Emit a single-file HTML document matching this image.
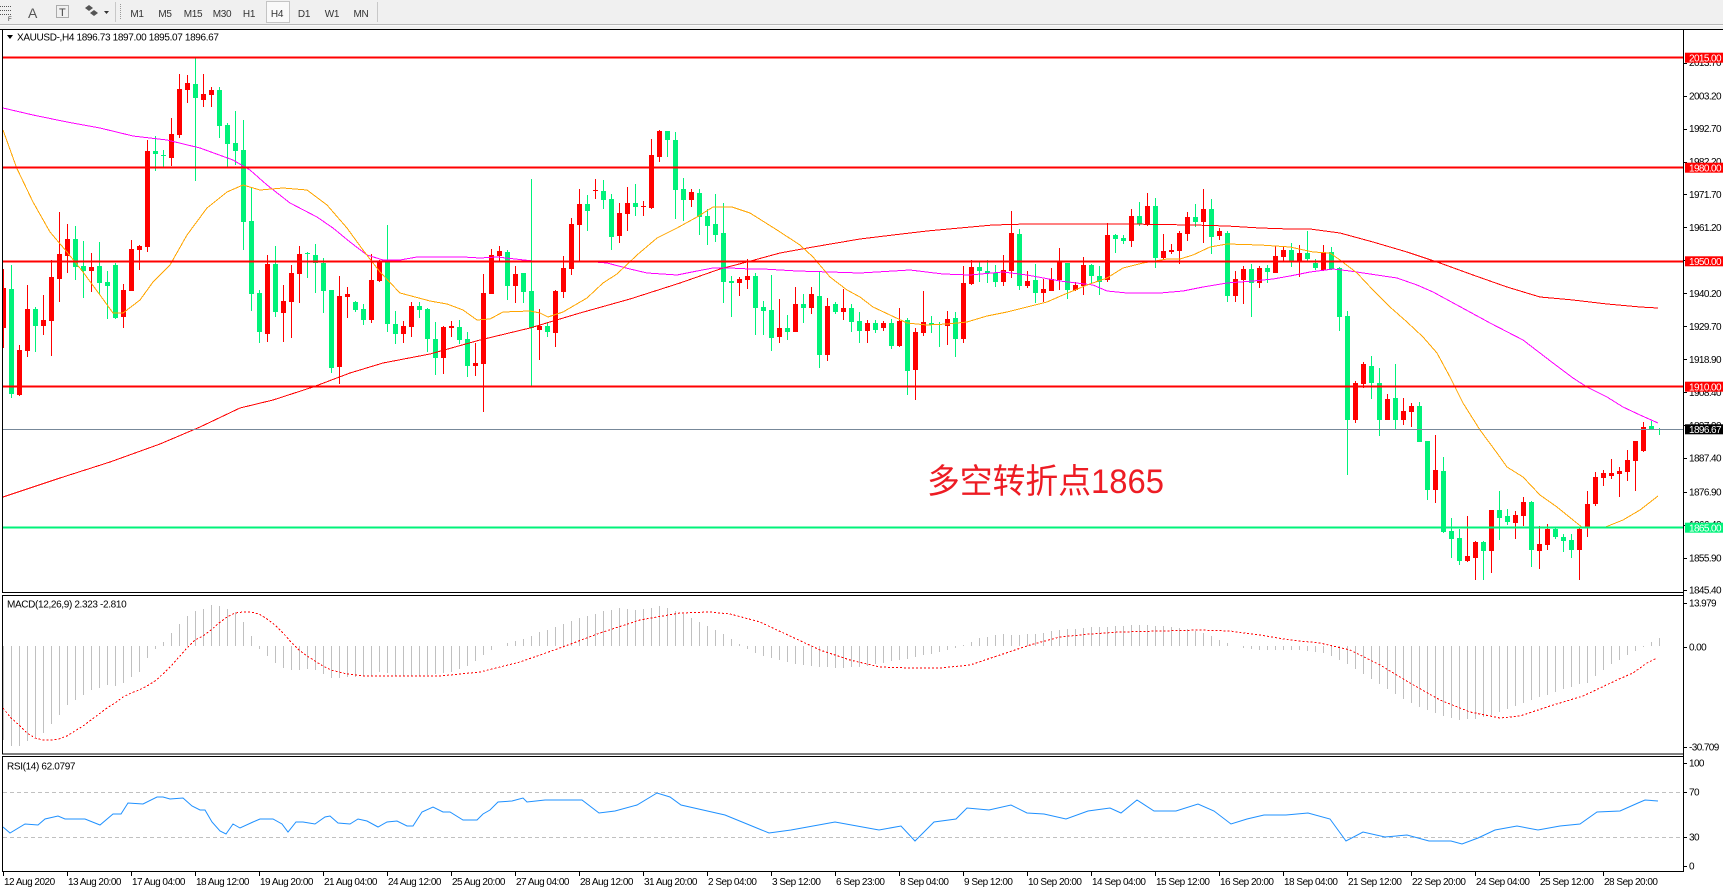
<!DOCTYPE html>
<html><head><meta charset="utf-8">
<style>
html,body{margin:0;padding:0;background:#fff;overflow:hidden;}
svg{display:block;font-family:"Liberation Sans","Noto Sans CJK SC",sans-serif;}
.t{font-size:10px;letter-spacing:-0.5px;fill:#000;}
.ax{font-size:10px;letter-spacing:-0.6px;fill:#000;}
.w{font-size:10px;letter-spacing:-0.6px;fill:#fff;}
.tb{font-size:10px;letter-spacing:-0.3px;fill:#333;}
</style></head><body>
<svg id="s" width="1723" height="892" viewBox="0 0 1723 892" xmlns="http://www.w3.org/2000/svg">
<defs>
<clipPath id="cm"><rect x="3" y="30" width="1680" height="562"/></clipPath>
<clipPath id="cd"><rect x="3" y="596" width="1680" height="158"/></clipPath>
<clipPath id="cr"><rect x="3" y="757" width="1680" height="114"/></clipPath>
</defs>
<rect x="0" y="0" width="1723" height="892" fill="#fff"/>
<!-- toolbar -->
<rect x="0" y="0" width="1723" height="29" fill="#F0F0F0"/>
<line x1="0" y1="24.5" x2="1723" y2="24.5" stroke="#B8B8B8"/>
<line x1="0" y1="25.5" x2="1723" y2="25.5" stroke="#FAFAFA"/>
<g stroke="#555" stroke-width="1" stroke-dasharray="1,1">
<line x1="0" y1="6.5" x2="11" y2="6.5"/><line x1="0" y1="10.5" x2="11" y2="10.5"/><line x1="0" y1="14.5" x2="11" y2="14.5"/>
</g>
<text x="8" y="21" style="font-size:6px;fill:#333">F</text>
<text x="28" y="18" style="font-size:14px;fill:#555">A</text>
<rect x="56.5" y="5.5" width="12" height="12" fill="none" stroke="#666" stroke-dasharray="1,1"/>
<text x="59" y="16" style="font-size:11px;fill:#444">T</text>
<polygon points="85,8 89,5 93,8 89,11" fill="#555"/>
<polygon points="90,13 94,10 98,13 94,16" fill="#555"/>
<polygon points="104,11 109,11 106.5,14" fill="#333"/>
<line x1="115.5" y1="2" x2="115.5" y2="22" stroke="#C8C8C8"/>
<line x1="120.5" y1="4" x2="120.5" y2="20" stroke="#999" stroke-dasharray="1,1"/>
<rect x="266.5" y="1.5" width="23" height="21" fill="#F9F9F9" stroke="#C4C4C4"/>
<g class="tb" text-anchor="middle">
<text x="137" y="17">M1</text><text x="165" y="17">M5</text><text x="193" y="17">M15</text><text x="222" y="17">M30</text>
<text x="249" y="17">H1</text><text x="277" y="17">H4</text><text x="304" y="17">D1</text><text x="332" y="17">W1</text><text x="361" y="17">MN</text>
</g>
<line x1="377.5" y1="2" x2="377.5" y2="22" stroke="#C8C8C8"/>
<!-- frames -->
<line x1="0" y1="29.5" x2="1723" y2="29.5" stroke="#000"/>
<rect x="2.5" y="29.5" width="1681" height="563" fill="none" stroke="#000"/>
<rect x="2.5" y="595.5" width="1681" height="158.5" fill="none" stroke="#000"/>
<rect x="2.5" y="756.5" width="1681" height="115" fill="none" stroke="#000"/>
<line x1="1683.5" y1="29" x2="1683.5" y2="872" stroke="#000"/>
<g id="main" clip-path="url(#cm)" shape-rendering="crispEdges"></g>
<g id="macd" clip-path="url(#cd)" shape-rendering="crispEdges"></g>
<g id="rsi" clip-path="url(#cr)"></g>
<!-- header -->
<polygon points="7,35 13,35 10,39" fill="#000"/>
<text class="t" x="17" y="40.5" style="letter-spacing:-0.35px">XAUUSD-,H4  1896.73 1897.00 1895.07 1896.67</text>
<text class="t" x="7" y="607.5" style="letter-spacing:-0.35px">MACD(12,26,9) 2.323 -2.810</text>
<text class="t" x="7" y="769.3" style="letter-spacing:-0.35px">RSI(14) 62.0797</text>
<text x="927" y="493" font-size="34" fill="#ED1C24" textLength="237" lengthAdjust="spacingAndGlyphs" style='font-family:"Liberation Sans","Noto Sans CJK SC",sans-serif'>多空转折点1865</text>
<g id="axis"></g>
</svg>
<script>
const NS='http://www.w3.org/2000/svg';
function el(tag,a,p){const e=document.createElementNS(NS,tag);for(const k in a)e.setAttribute(k,a[k]);p.appendChild(e);return e;}
const main=document.getElementById('main'),macd=document.getElementById('macd'),rsi=document.getElementById('rsi'),axis=document.getElementById('axis');
const S1=[[1,730,848,672,910],[0,732,1048,660,1060],[1,915,1050,900,1052],[1,793,917,720,935],[0,793,843,785,920],[1,826,842,750,870],[1,697,828,645,932],[1,627,702,500,770],[1,582,632,537,683],[0,582,667,543,705],[0,663,678,588,760],[1,666,678,624,740],[0,663,713,592,750],[0,711,722,678,822],[0,660,818,655,823],[1,735,815,717,848],[1,612,737,585,737],[1,603,614,600,675],[1,318,605,285,622],[0,318,326,272,377],[0,329,334,316,366],[1,267,338,218,362],[1,132,270,86,280],[1,114,134,90,173],[0,117,160,40,408],[1,148,164,87,185],[1,135,149,126,187],[0,135,242,126,280],[0,240,298,234,365],[0,295,318,197,360],[0,315,530,225,615],[0,528,746,425,797],[0,745,862,735,893],[1,657,866,631,890],[0,657,800,603,815],[1,768,803,720,890],[1,684,770,660,878],[1,627,687,603,773],[0,623,626,620,700],[0,630,655,597,743],[0,655,737,640,805],[0,735,970,735,983],[1,753,966,692,1016],[1,747,755,727,820],[0,770,795,767,800],[0,792,826,778,840],[1,705,826,628,833],[1,650,707,645,710],[0,650,838,540,862],[0,837,868,798,898],[1,843,868,828,895],[1,783,845,770,875],[0,783,795,770,820],[0,792,883,788,922]];
const S2=[[0,687,745,636,795],[1,650,745,648,792],[1,648,653,632,682],[0,651,690,630,703],[0,687,768,665,800],[1,759,768,700,798],[1,548,762,492,905],[1,435,551,417,551],[1,422,437,407,455],[0,426,527,420,570],[1,492,527,468,580],[0,489,545,489,578],[0,543,655,207,828],[1,648,660,598,750],[0,648,665,635,680],[1,543,668,540,710],[1,474,545,438,563],[1,342,476,324,496],[1,282,345,238,455],[0,282,302,256,362],[1,240,243,207,268],[0,243,269,210,296],[0,267,381,253,420],[1,309,378,278,398],[1,279,311,231,362],[0,279,290,222,318],[1,288,291,274,318],[1,135,293,87,296],[1,63,140,59,157],[0,63,89,63,140],[0,90,239,66,327],[0,237,269,204,332],[1,246,269,238,290],[0,249,320,238,374],[0,318,347,298,405],[0,342,374,252,395],[0,369,515,280,578],[0,513,518,498,620],[1,507,518,500,557],[1,497,509,448,536],[0,497,593,490,675],[0,591,602,573,675],[0,600,683,495,722],[1,654,680,567,698],[0,654,665,615,690],[1,582,665,531,665],[0,582,593,552,640],[1,552,593,532,613],[0,558,735,485,773],[1,588,735,563,752],[0,583,606,576,612],[1,594,605,537,630],[0,594,635,583,665],[0,633,662,605,698]];
const S3=[[1,489,512,480,548],[0,489,510,480,518],[1,489,503,483,512],[0,489,557,478,566],[1,483,558,444,560],[0,480,632,474,705],[1,516,630,505,720],[1,486,518,393,527],[0,489,496,467,518],[0,492,495,487,560],[1,477,497,453,555],[0,474,537,457,590],[1,369,537,318,548],[1,321,372,300,375],[0,321,332,305,365],[0,333,340,300,368],[0,339,365,315,380],[1,330,366,285,378],[1,219,333,153,355],[0,221,378,207,390],[1,363,378,333,385],[0,360,399,312,428],[1,387,398,357,425],[1,358,392,324,392],[1,305,360,264,390],[0,308,389,308,418],[1,375,389,365,392],[1,315,377,291,405],[0,315,348,312,372],[0,348,366,318,404],[1,225,360,189,365],[0,225,236,222,278],[0,234,242,225,251],[1,168,242,147,260],[0,168,193,127,199],[1,138,196,99,197],[0,138,293,114,323],[1,273,294,222,296],[1,269,275,253,283],[1,219,272,212,312],[1,170,222,156,242],[0,170,185,131,200],[1,147,185,87,248],[0,147,231,117,282],[1,212,228,205,240],[0,219,407,212,425],[1,357,407,333,425],[1,327,360,318,432],[0,327,369,312,470],[1,323,368,318,383],[0,323,335,314,368],[1,288,338,257,338],[1,270,290,260,303]];
const S4=[[0,150,185,130,200],[1,158,185,135,232],[0,158,178,93,185],[0,190,205,178,210],[1,157,210,135,213],[0,157,208,140,210],[0,203,350,200,392],[0,348,660,333,825],[1,549,660,543,668],[1,493,553,485,565],[0,497,550,468,597],[0,549,660,503,707],[1,597,660,582,660],[0,594,660,492,688],[1,632,660,593,675],[1,618,635,608,680],[0,618,725,605,725],[0,723,870,723,900],[1,810,870,705,910],[0,813,997,771,1000],[0,993,1017,955,1075],[0,1015,1083,988,1095],[1,1068,1083,948,1085],[1,1025,1073,1022,1140],[0,1025,1052,1022,1140],[1,930,1052,930,1120],[0,930,953,873,1020],[0,948,965,928,975],[1,944,968,933,1017],[1,906,947,890,978],[0,906,1050,903,1100],[1,1032,1052,978,1107],[1,987,1034,972,1050],[0,987,1010,980,1017],[0,1010,1022,1003,1055],[0,1020,1050,1003,1075],[1,987,1050,982,1140],[1,912,985,873,1010],[1,830,913,817,918],[1,820,833,810,858],[1,820,828,777,836],[1,813,822,800,890],[1,780,815,750,843],[1,722,783,722,873],[1,682,752,665,757],[0,678,688,663,688],[0,686,688,685,705]];
const RED='#FF0000',GRN='#00F27A';
let i=0;
for(const [off,arr] of [[45,S1],[110,S2],[160,S3],[200,S4]]){
  for(const c of arr){
    const col=c[0]?RED:GRN, x=3+8*i;
    const yt=Math.round(off+c[1]/3), yb=Math.round(off+c[2]/3), wt=Math.round(off+c[3]/3), wb=Math.round(off+c[4]/3);
    el('rect',{x:x,y:wt,width:1,height:Math.max(1,wb-wt),fill:col},main);
    el('rect',{x:x-2,y:yt,width:5,height:Math.max(1,yb-yt),fill:col},main);
    i++;
  }
}
function pl(str,col,p,extra){const a={points:str,fill:'none',stroke:col,'stroke-width':1};if(extra)Object.assign(a,extra);return el('polyline',a,p);}
pl("3,497 60,478 110,462 160,444 200,427 240,408 273,400 313,387 350,373 383,363 430,354 480,340 530,328 580,313 630,299 680,283 720,269 747,262 780,253 813,247 860,239 893,235 927,231 960,228 993,225 1027,224 1060,224 1127,224 1193,225 1227,226 1260,228 1290,229 1310,229 1340,233 1373,242 1407,252 1440,263 1473,275 1507,287 1540,297 1573,300 1607,304 1640,307 1658,308",RED,main);
pl("3,108 33,115 67,122 100,128 133,136 167,140 200,148 233,160 250,170 267,185 290,203 317,217 333,228 350,242 367,255 383,260 400,260 417,257 430,257 463,257 480,258 497,257 533,261 583,261 607,263 630,269 647,273 677,275 697,271 713,268 730,268 750,269 763,269 797,271 830,272 860,273 910,270 943,274 970,275 1003,272 1027,275 1060,281 1093,285 1107,291 1127,293 1160,293 1183,291 1203,287 1227,283 1253,281 1273,279 1290,276 1310,272 1333,269 1350,271 1370,274 1397,278 1417,285 1433,292 1457,305 1490,323 1523,340 1553,363 1573,378 1587,387 1607,397 1623,407 1640,415 1658,423","#FF00FF",main);
pl("3,130 16.7,168 33,202 50,232 67,252 83,272 100,295 113,313 123,313 140,300 153,282 170,265 187,235 207,208 227,192 243,185 260,190 283,188 307,190 327,205 347,228 363,250 380,272 400,293 430,301 447,304 463,310 477,320 490,319 503,312 530,311 540,313 548,317 563,312 587,298 603,283 617,274 637,255 657,238 677,228 697,217 713,207 732,207 750,213 777,230 800,245 813,257 830,277 847,290 860,297 873,307 890,315 907,323 927,325 947,324 967,322 987,316 1007,312 1027,307 1047,302 1063,295 1087,285 1107,278 1123,268 1143,263 1167,259 1180,259 1193,255 1210,247 1227,244 1260,245 1290,247 1313,252 1330,253 1340,260 1357,273 1373,290 1390,307 1407,322 1423,337 1437,353 1450,377 1463,403 1480,430 1497,453 1507,467 1523,477 1540,495 1557,507 1573,520 1583,528 1603,528 1623,520 1640,510 1658,496","#FFA500",main);
// horizontal levels
for(const y of [57.7,167.7,261.3,386.7]) el('rect',{x:3,y:y-1,width:1680,height:2,fill:RED},main);
el('rect',{x:3,y:526.7,width:1680,height:2,fill:GRN},main);
el('rect',{x:3,y:429,width:1680,height:1,fill:'#778899'},main);
// MACD
function interp(P,x){for(let k=0;k<P.length-1;k++){if(x<=P[k+1][0]){const a=P[k],b=P[k+1];return a[1]+(b[1]-a[1])*(x-a[0])/(b[0]-a[0]);}}return P[P.length-1][1];}
const H=[[3,740],[11,746],[19,746],[27,741],[35,737],[43,733],[51,724],[59,715],[67,705],[75,700],[83,695],[91,690],[99,688],[107,685],[115,686],[123,683],[131,677],[139,672],[147,658],[155,649],[163,642],[171,633],[179,624],[187,616],[195,611],[203,609],[211,605],[219,606],[227,609],[235,612],[243,622],[251,636],[259,649],[267,656],[275,663],[283,668],[291,670],[299,670],[307,669],[315,670],[323,674],[331,678],[339,678],[347,677],[355,677],[363,676],[371,676],[379,672],[387,673],[395,676],[420,676],[450,672],[470,665],[483,655],[500,645],[520,640],[540,632],[560,625],[580,618],[600,612],[620,608],[640,610],[660,606],[680,613],[700,622],[720,632],[740,645],[760,655],[780,660],[800,665],[820,667],[840,668],[860,667],[880,663],[900,660],[920,656],[940,652],[960,646],[980,638],[1000,634],[1020,635],[1040,633],[1060,630],[1080,628],[1100,627],[1120,626],[1140,625],[1160,626],[1180,628],[1200,632],[1220,640],[1240,648],[1260,650],[1280,650],[1300,650],[1320,652],[1340,660],[1360,672],[1380,685],[1400,697],[1420,707],[1440,715],[1460,720],[1480,718],[1500,712],[1520,704],[1540,697],[1560,690],[1580,684],[1587,683],[1595,676],[1603,670],[1611,664],[1619,660],[1627,655],[1635,651],[1643,647],[1651,642],[1659,638]];
const Z=646;
for(let k=0;k<208;k++){const x=3+8*k,t=Math.round(interp(H,x));const y0=Math.min(t,Z),h=Math.abs(t-Z);if(h>0)el('rect',{x:x,y:y0,width:1,height:h,fill:'#C0C0C0'},macd);}
const SG="3,708 11,718 19,725 27,733 35,738 43,740 51,740 59,739 67,736 75,731 83,726 91,720 99,714 107,708 115,703 123,697 131,693 139,690 147,686 155,681 163,674 171,666 179,657 187,648 195,640 203,636 211,630 219,623 227,617 235,613 243,612 251,612 259,614 267,619 275,625 283,633 291,642 299,650 307,656 315,661 323,666 331,670 339,672 347,674 355,675 363,676 395,676 440,676 480,672 520,662 560,648 600,633 640,620 680,613 710,612 730,614 760,622 790,636 820,650 850,660 880,667 910,668 940,668 970,665 1000,655 1030,645 1060,637 1090,634 1120,632 1160,631 1200,630 1230,631 1260,635 1290,640 1320,643 1350,650 1380,665 1410,683 1440,700 1470,712 1500,718 1520,716 1550,706 1583,696 1600,688 1617,680 1633,673 1647,663 1657,658";
pl(SG,RED,macd,{'stroke-dasharray':'2,2'});
// RSI
el('line',{x1:3,y1:792.5,x2:1683,y2:792.5,stroke:'#C0C0C0','stroke-dasharray':'4,3'},rsi);
el('line',{x1:3,y1:837.5,x2:1683,y2:837.5,stroke:'#C0C0C0','stroke-dasharray':'4,3'},rsi);
pl("3,827 10,833 25,824 38,825 45,819 58,816 65,819 85,819 100,825 113,814 121,814 128,803 143,804 157,797 163,797 170,799 183,798 192,806 200,810 205,810 212,822 220,831 226,834 233,824 240,828 253,822 260,819 273,819 282,824 288,832 296,822 303,822 315,824 325,817 330,816 338,823 350,824 358,819 367,821 378,827 387,822 397,821 407,826 413,826 422,812 433,807 443,812 450,812 463,820 477,820 483,814 490,810 498,802 512,801 523,798 527,802 545,800 582,800 599,813 615,811 637,805 657,793 670,797 681,805 703,810 725,815 747,824 769,833 791,830 813,826 835,822 857,826 879,830 901,826 915,841 934,822 956,819 967,808 989,810 1011,805 1027,813 1044,814 1066,819 1088,811 1110,808 1121,813 1137,800 1154,811 1176,811 1198,804 1214,811 1231,824 1247,819 1264,815 1286,815 1308,813 1330,819 1346,841 1363,832 1385,837 1407,835 1429,841 1451,841 1462,844 1478,838 1495,830 1517,826 1538,830 1560,826 1580,824 1597,812 1620,811 1638,803 1645,800 1658,801","#1E90FF",rsi);
// price axis labels
const PL=[["2013.70",62.5],["2003.20",95.8],["1992.70",128.6],["1982.20",161.5],["1971.70",194.3],["1961.20",227.3],["1950.70",260.3],["1940.20",293.3],["1929.70",326.2],["1918.90",359.3],["1908.40",392.3],["1897.90",425.3],["1887.40",457.7],["1876.90",491.7],["1866.40",524.5],["1855.90",557.7],["1845.40",589.7],
["13.979",602.7],["0.00",646.7],["-30.709",747],["100",763],["70",792],["30",837],["0",866]];
for(const [t,y] of PL){el('line',{x1:1684,y1:Math.round(y)+0.5,x2:1687,y2:Math.round(y)+0.5,stroke:'#000'},axis);const e=el('text',{x:1689,y:y+3.6,class:'ax'},axis);e.textContent=t;}
function box(t,y,col){el('rect',{x:1685,y:y-5,width:38,height:10,fill:col},axis);const e=el('text',{x:1689,y:y+3.6,class:'w'},axis);e.textContent=t;}
box("2015.00",57.7,RED);box("1980.00",167.7,RED);box("1950.00",261.3,RED);box("1910.00",386.7,RED);box("1896.67",429.3,'#000');box("1865.00",527.7,GRN);
// time axis
const TL=["12 Aug 2020","13 Aug 20:00","17 Aug 04:00","18 Aug 12:00","19 Aug 20:00","21 Aug 04:00","24 Aug 12:00","25 Aug 20:00","27 Aug 04:00","28 Aug 12:00","31 Aug 20:00","2 Sep 04:00","3 Sep 12:00","6 Sep 23:00","8 Sep 04:00","9 Sep 12:00","10 Sep 20:00","14 Sep 04:00","15 Sep 12:00","16 Sep 20:00","18 Sep 04:00","21 Sep 12:00","22 Sep 20:00","24 Sep 04:00","25 Sep 12:00","28 Sep 20:00"];
TL.forEach((t,k)=>{const x=3+64*k;el('line',{x1:x+0.5,y1:872,x2:x+0.5,y2:876,stroke:'#000'},axis);const e=el('text',{x:x+1,y:885,class:'t'},axis);e.textContent=t;});
</script>
</body></html>
